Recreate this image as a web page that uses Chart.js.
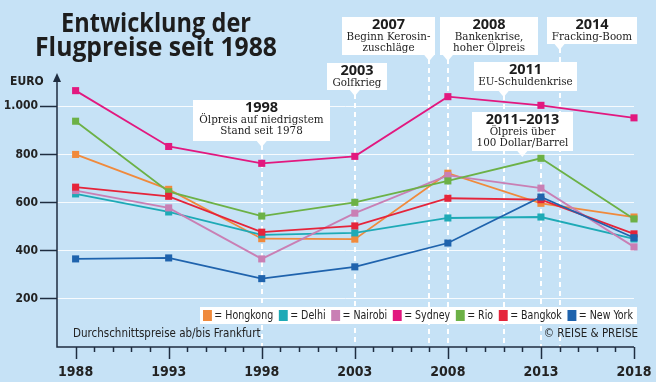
<!DOCTYPE html>
<html><head><meta charset="utf-8">
<script src="https://cdn.jsdelivr.net/npm/chart.js@4"></script>
<style>html,body{margin:0;padding:0;background:#c6e2f6;}canvas{display:block}</style>
</head><body>
<canvas id="c" width="656" height="382"></canvas>
<script>
// ---------- data ----------
const years = [1988, 1993, 1998, 2003, 2008, 2013, 2018];
const hongkong = [800, 655, 450, 448, 722, 597, 540];
const delhi    = [636, 561, 466, 474, 536, 540, 449];
const nairobi  = [650, 578, 366, 556, 713, 660, 416];
const sydney   = [1065, 833, 763, 792, 1040, 1004, 952];
const rio      = [938, 645, 544, 601, 690, 784, 532];
const bangkok  = [664, 626, 477, 503, 618, 612, 470];
const newYork  = [366, 370, 284, 333, 432, 623, 454];
const cities = ['Hongkong', 'Delhi', 'Nairobi', 'Sydney', 'Rio', 'Bangkok', 'New York'];
const seriesValues = [hongkong, delhi, nairobi, sydney, rio, bangkok, newYork];
const yTickValues = [200, 400, 600, 800, 1000];
const xTickValues = [1988, 1993, 1998, 2003, 2008, 2013, 2018];
const titleLines = ['Entwicklung der', 'Flugpreise seit 1988'];
const yUnit = 'EURO';
const footnote = 'Durchschnittspreise ab/bis Frankfurt';
const credit = '© REISE & PREISE';
const eventTitles = ['1998', '2003', '2007', '2008', '2011', '2011–2013', '2014'];
const eventTexts = [
  ['Ölpreis auf niedrigstem', 'Stand seit 1978'],
  ['Golfkrieg'],
  ['Beginn Kerosin-', 'zuschläge'],
  ['Bankenkrise,', 'hoher Ölpreis'],
  ['EU-Schuldenkrise'],
  ['Ölpreis über', '100 Dollar/Barrel'],
  ['Fracking-Boom']
];
const eventPointerYears = [1998, 2003, 2007, 2008, 2011, 2012, 2014];
const eventLineYears = [1998, 2003, 2007, 2008, 2011, 2013, 2014];

// ---------- styles / layout ----------
const BG = '#c6e2f6', AXIS = '#1f2d40', INK = '#1d1d1d';
const cityColors = ['#f08a3c', '#1eaab6', '#c97fb4', '#e2187f', '#6cb146', '#e5243a', '#1f63ad'];
const boxLayout = [
  {x:193, y:100, w:137, h:41},
  {x:327, y:63,  w:60,  h:27},
  {x:342, y:17,  w:93,  h:38},
  {x:440, y:17,  w:98,  h:38},
  {x:474, y:62,  w:103, h:29},
  {x:472, y:112, w:101, h:39},
  {x:547, y:17,  w:90,  h:27}
];
const NARROW = '"Liberation Sans Narrow", "DejaVu Sans Condensed", sans-serif';
const SERIF = '"DejaVu Serif Condensed", "DejaVu Serif", serif';
const SANS = '"Open Sans", sans-serif';

function fitText(ctx, text, x, y, targetW, align) {
  const w = ctx.measureText(text).width;
  const s = Math.min(1.2, targetW / w);
  ctx.save();
  ctx.translate(x, y);
  ctx.scale(s, 1);
  ctx.textAlign = align || 'center';
  ctx.fillText(text, 0, 0);
  ctx.restore();
}

const decor = {
  id: 'decor',
  beforeDraw(chart) {
    const ctx = chart.ctx;
    ctx.save();
    ctx.fillStyle = BG;
    ctx.fillRect(0, 0, chart.width, chart.height);
    ctx.restore();
  },
  beforeDatasetsDraw(chart) {
    const ctx = chart.ctx, xs = chart.scales.x, ca = chart.chartArea;
    ctx.save();
    ctx.strokeStyle = '#ffffff';
    ctx.lineWidth = 2;
    ctx.setLineDash([5, 4]);
    eventLineYears.forEach((yr, i) => {
      const b = boxLayout[i];
      const px = Math.round(xs.getPixelForValue(yr));
      ctx.beginPath();
      ctx.moveTo(px, b.y + b.h + 4);
      ctx.lineTo(px, ca.bottom);
      ctx.stroke();
    });
    ctx.restore();
  },
  afterDatasetsDraw(chart) {
    const ctx = chart.ctx, xs = chart.scales.x, ca = chart.chartArea;
    ctx.save();
    ctx.strokeStyle = AXIS;
    ctx.lineWidth = 1.5;
    ctx.beginPath();
    ctx.moveTo(ca.left, ca.top + 4);
    ctx.lineTo(ca.left, ca.bottom);
    ctx.lineTo(ca.right, ca.bottom);
    ctx.stroke();
    ctx.fillStyle = AXIS;
    ctx.beginPath();
    ctx.moveTo(ca.left, ca.top - 2);
    ctx.lineTo(ca.left - 4, ca.top + 7);
    ctx.lineTo(ca.left + 4, ca.top + 7);
    ctx.closePath();
    ctx.fill();
    ctx.lineWidth = 1.5;
    for (let yr = Math.ceil(xs.min) + 1; yr <= xs.max; yr++) {
      const px = Math.round(xs.getPixelForValue(yr)) + 0.5;
      const len = xTickValues.includes(yr) ? 12 : 5;
      ctx.beginPath();
      ctx.moveTo(px, ca.bottom);
      ctx.lineTo(px, ca.bottom + len);
      ctx.stroke();
    }
    ctx.fillStyle = '#222';
    ctx.font = 'bold 12px ' + NARROW;
    ctx.textBaseline = 'middle';
    ctx.textAlign = 'left';
    ctx.fillText(yUnit, 10, 82);

    ctx.fillStyle = INK;
    ctx.font = 'bold 27px ' + SANS;
    ctx.textBaseline = 'alphabetic';
    fitText(ctx, titleLines[0], 156, 32, 190);
    fitText(ctx, titleLines[1], 156, 56, 242);

    eventTitles.forEach((t, i) => {
      const b = boxLayout[i];
      const px = xs.getPixelForValue(eventPointerYears[i]);
      ctx.fillStyle = '#ffffff';
      ctx.fillRect(b.x, b.y, b.w, b.h);
      ctx.beginPath();
      ctx.moveTo(px - 5, b.y + b.h);
      ctx.lineTo(px + 5, b.y + b.h);
      ctx.lineTo(px, b.y + b.h + 6);
      ctx.closePath();
      ctx.fill();
      const cx = b.x + b.w / 2;
      ctx.fillStyle = INK;
      ctx.textAlign = 'center';
      ctx.textBaseline = 'middle';
      ctx.font = 'bold 14.5px ' + SANS;
      ctx.fillText(t, cx, b.y + 8);
      ctx.fillStyle = '#1e1e1e';
      ctx.font = '11.5px ' + SERIF;
      eventTexts[i].forEach((line, j) => {
        ctx.fillText(line, cx, b.y + 20.5 + j * 11);
      });
    });

    const lg = {x: 200, y: 307, w: 437, h: 17};
    ctx.fillStyle = '#ffffff';
    ctx.fillRect(lg.x, lg.y, lg.w, lg.h);
    ctx.font = '13px ' + NARROW;
    const sq = 11, g1 = 3, g2 = 7;
    let natural = 0;
    const widths = cities.map(c => ctx.measureText('= ' + c).width);
    widths.forEach(w => natural += sq + g1 + w + g2);
    natural -= g2;
    const s = (lg.w - 7) / natural;
    ctx.save();
    ctx.translate(lg.x + 3, lg.y + lg.h / 2);
    ctx.scale(s, 1);
    let cur = 0;
    ctx.textAlign = 'left';
    ctx.textBaseline = 'middle';
    cities.forEach((c, i) => {
      ctx.fillStyle = cityColors[i];
      ctx.fillRect(cur, -sq / 2, sq, sq);
      cur += sq + g1;
      ctx.fillStyle = '#222';
      ctx.fillText('= ' + c, cur, 0.5);
      cur += widths[i] + g2;
    });
    ctx.restore();

    ctx.fillStyle = '#222';
    ctx.font = '11.5px ' + NARROW;
    ctx.textAlign = 'left';
    ctx.textBaseline = 'middle';
    ctx.fillText(footnote, 73, 334);
    ctx.textAlign = 'right';
    ctx.fillText(credit, 638, 334);
    ctx.restore();
  }
};

const datasets = cities.map((c, i) => ({
  label: c,
  data: years.map((y, k) => ({x: y, y: seriesValues[i][k]})),
  borderColor: cityColors[i],
  backgroundColor: cityColors[i],
  pointBackgroundColor: cityColors[i],
  pointBorderWidth: 0,
  pointStyle: 'rect',
  pointRadius: 5,
  borderWidth: 1.8,
  tension: 0,
  clip: false,
  order: cities.length - i
}));

new Chart(document.getElementById('c'), {
  type: 'line',
  data: {datasets},
  options: {
    responsive: false,
    animation: false,
    devicePixelRatio: 1,
    layout: {padding: {top: 75, right: 22, left: 0, bottom: 0}},
    plugins: {legend: {display: false}, tooltip: {enabled: false}, title: {display: false}},
    scales: {
      x: {
        type: 'linear', min: 1987, max: 2018,
        afterBuildTicks: sc => { sc.ticks = xTickValues.map(v => ({value: v})); },
        afterFit: sc => { sc.height = 35; sc.paddingLeft = 0; sc.paddingRight = 0; },
        grid: {display: false},
        border: {display: false},
        ticks: {
          callback: v => String(v),
          color: '#222', padding: 9, maxRotation: 0, autoSkip: false,
          font: {family: NARROW, size: 14, weight: 'bold'}
        }
      },
      y: {
        min: 0, max: 1130,
        afterBuildTicks: sc => { sc.ticks = yTickValues.map(v => ({value: v})); },
        afterFit: sc => { sc.width = 57; sc.paddingTop = 0; sc.paddingBottom = 0; },
        border: {display: false},
        grid: {color: 'rgba(255,255,255,0.85)', lineWidth: 1, tickColor: AXIS, tickLength: 17, tickWidth: 1.5},
        ticks: {
          callback: v => v.toLocaleString('de-DE'),
          color: '#222', padding: 2,
          font: {family: NARROW, size: 12, weight: 'bold'}
        }
      }
    }
  },
  plugins: [decor]
});
</script>
</body></html>
